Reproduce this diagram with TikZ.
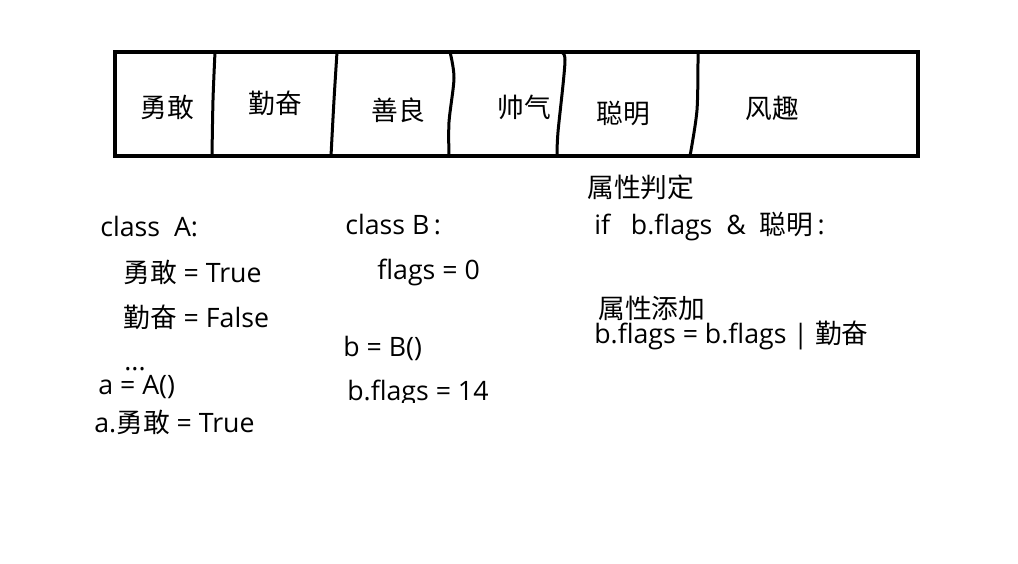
\documentclass[tikz,border=0pt]{standalone}
\usepackage{fontspec}
\setmainfont{Open Sans}
\newfontfamily\cjk{Noto Sans CJK SC}
\newcommand{\zh}[1]{{\cjk #1}}
\begin{document}
\begin{tikzpicture}[x=0.02cm,y=-0.02cm,
  cell/.style={inner sep=0pt,font=\cjk\fontsize{15.2}{17}\selectfont},
  code/.style={inner sep=0pt,anchor=base west,font=\fontsize{15.2}{17}\selectfont},
  thick line/.style={line width=0.08cm},
  div line/.style={line width=0.06cm}]
\useasboundingbox (0,0) rectangle (1018,564);

%% outer box
  \draw[thick line] (115,52) rectangle (918,156);

%% dividers
  \draw[div line] plot [smooth] coordinates {(215,52) (213,100) (212,156)};
  \draw[div line] plot [smooth] coordinates {(337,52) (334,100) (331,156)};
  \draw[div line] plot [smooth] coordinates {(450,52) (454,78) (449,122) (449,156)};
  \draw[div line] plot [smooth] coordinates {(558,52) (565,60) (558,132) (557,156)};
  \draw[div line] plot [smooth] coordinates {(698,54) (697,110) (690,156)};

%% cell labels
  \node[cell] (yonggan) at (167,107) {勇敢};
  \node[cell] (qinfen)  at (275,103) {勤奋};
  \node[cell] (shanliang) at (398,110) {善良};
  \node[cell] (shuaiqi) at (524,107) {帅气};
  \node[cell] (congming) at (623,113) {聪明};
  \node[cell] (fengqu)  at (772,108) {风趣};

%% class A
  \node[code] (classA) at (100,237) {class\ \ A:};
  \node[code] (attrA1) at (123,283) {\zh{勇敢} = True};
  \node[code] (attrA2) at (123,328) {\zh{勤奋} = False};
  \node[code] (dotsA)  at (124,370) {...};
  \node[code] (newA)   at (98,395)  {a = A()};
  \node[code] (setA)   at (94,432)  {a.\zh{勇敢} = True};

%% class B
  \node[code] (classB) at (345,235) {class B\,:};
  \node[code] (flagsB) at (377,280) {flags = 0};
  \node[code] (newB)   at (343,357) {b = B()};
  \begin{scope}
    \clip (330,360) rectangle (540,402);
    \node[code] (setB) at (347,400) {b.flags = 14};
  \end{scope}

%% flag ops
  \node[code] (testT)  at (587,198) {\zh{属性判定}};
  \node[code] (testC)  at (594,235) {if\ \ \ b.flags\ \ \&\ \ \zh{聪明}\,:};
  \node[code] (addT)   at (598,318) {\zh{属性添加}};
  \node[code] (addC)   at (594,343) {b.flags = b.flags | \zh{勤奋}};
\end{tikzpicture}
\end{document}
